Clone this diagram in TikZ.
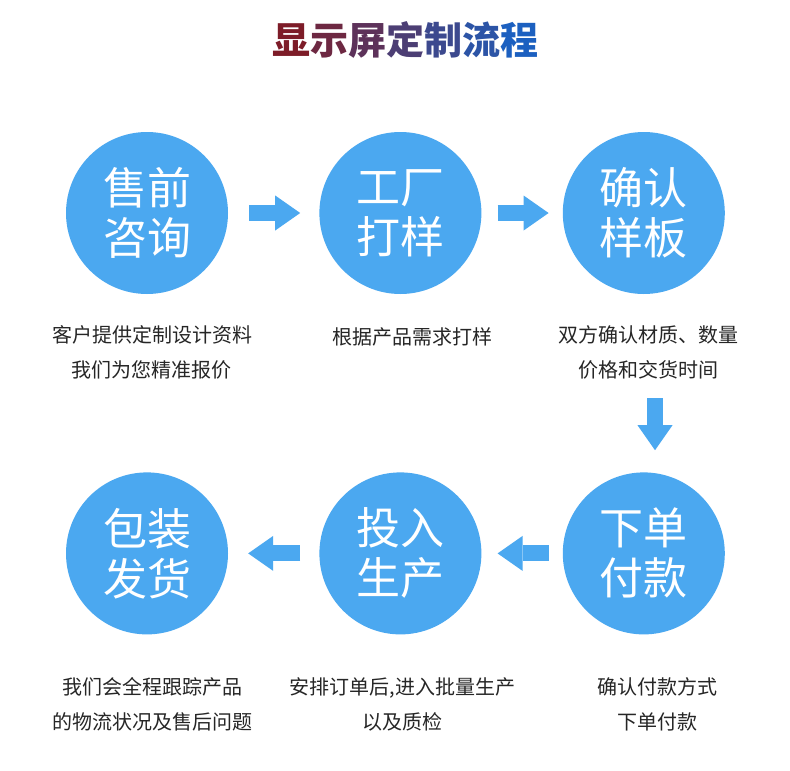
\documentclass[tikz,border=0pt]{standalone}
\usepackage{fontspec}
\setmainfont{Noto Sans CJK SC}
\usepackage{tikz}
\usetikzlibrary{positioning, arrows.meta}

\definecolor{stepblue}{RGB}{75,168,240}
\definecolor{titlered}{RGB}{125,28,40}
\definecolor{titleblue}{RGB}{28,96,192}
\newcommand{\tchar}[2]{\textcolor{titleblue!#1!titlered}{#2}}

\tikzset{
    stepcircle/.style={circle, fill=stepblue, text=white, minimum size=162pt, inner sep=0pt,
        align=center, font=\fontsize{44}{50}\selectfont},
    caption/.style={inner sep=0pt, align=center, text=black!85, font=\fontsize{20}{35}\selectfont},
    blockarrow/.style={draw=stepblue, line width=16pt,
        -{Triangle[width=35pt, length=25pt, line width=0pt, fill=stepblue]}},
}

\begin{document}
\begin{tikzpicture}[x=1pt, y=-1pt]
        \fill[white] (0,0) rectangle (790,771);

        \node[font=\fontsize{38}{40}\selectfont\bfseries] (title) at (405,40)
            {\tchar{0}{显}\tchar{17}{示}\tchar{33}{屏}\tchar{50}{定}\tchar{67}{制}\tchar{83}{流}\tchar{100}{程}};

        \node[stepcircle] (consult) at (147,213) {售前\\咨询};
        \node[stepcircle, right=91pt of consult] (sample) {工厂\\打样};
        \node[stepcircle, right=81pt of sample] (confirm) {确认\\样板};
        \node[stepcircle, below=178pt of confirm] (pay) {下单\\付款};
        \node[stepcircle, left=81pt of pay] (produce) {投入\\生产};
        \node[stepcircle, left=91pt of produce] (ship) {包装\\发货};

        \node[caption, below=31pt of consult, xshift=5pt] (consultnote) {客户提供定制设计资料\\我们为您精准报价};
        \node[caption, below=33pt of sample, xshift=12pt] (samplenote) {根据产品需求打样};
        \node[caption, below=31pt of confirm, xshift=5pt] (confirmnote) {双方确认材质、数量\\价格和交货时间};
        \node[caption, below=43pt of ship, xshift=5pt] (shipnote) {我们会全程跟踪产品\\的物流状况及售后问题};
        \node[caption, below=43pt of produce, xshift=2pt] (producenote) {安排订单后,进入批量生产\\以及质检};
        \node[caption, below=43pt of pay, xshift=14pt] (paynote) {确认付款方式\\下单付款};

        \draw[blockarrow, shorten <=21pt, shorten >=19pt] (consult) -- (sample);
        \draw[blockarrow, shorten <=16pt, shorten >=14pt] (sample) -- (confirm);
        \draw[blockarrow, shorten <=14pt, shorten >=16pt] (pay) -- (produce);
        \draw[blockarrow, shorten <=19pt, shorten >=20pt] (produce) -- (ship);

        \coordinate (turn) at (655,398);
        \draw[blockarrow, shorten >=22pt] (turn) -- (turn |- pay.north);
    \end{tikzpicture}
\end{document}
